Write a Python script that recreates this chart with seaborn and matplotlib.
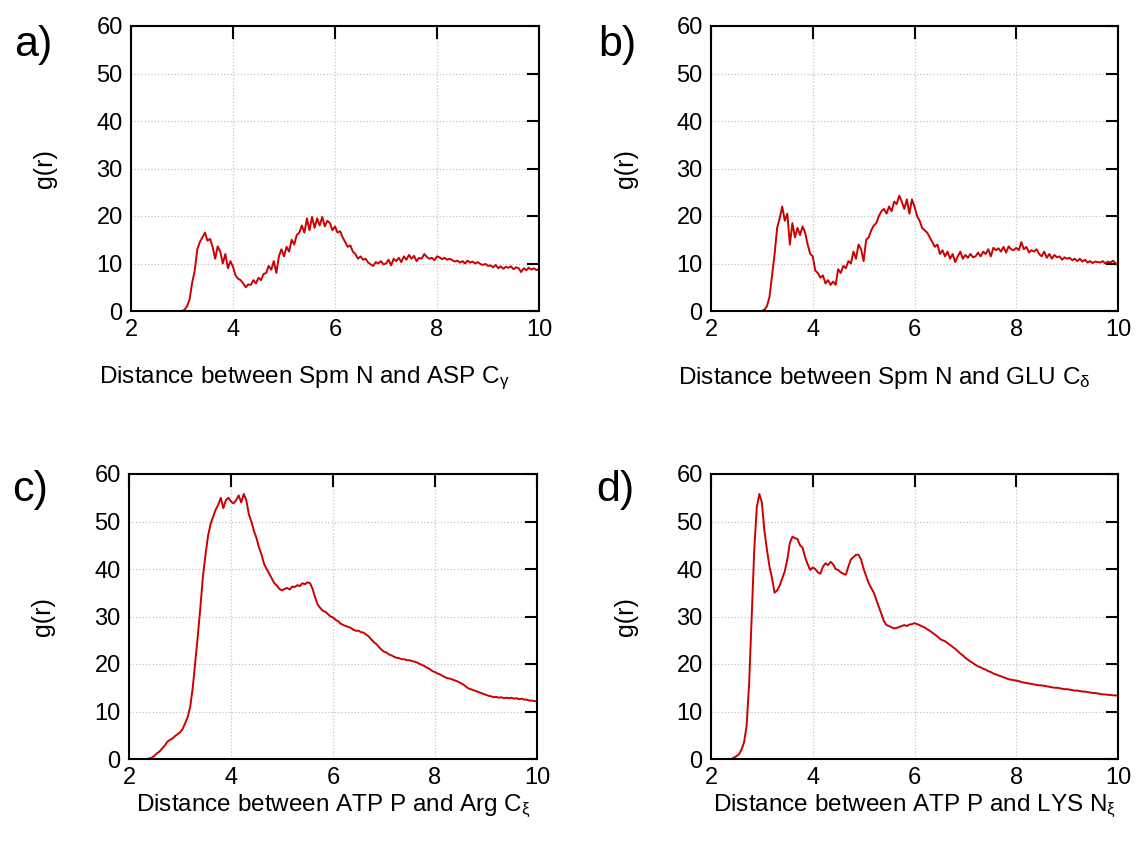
import numpy as np
import pandas as pd
import matplotlib
matplotlib.use("Agg")
import matplotlib.pyplot as plt
import seaborn as sns

g_asp = [0.0] * 21 + [
    0.3, 1.0, 2.5, 6.0, 8.5, 13.0, 14.5, 15.5, 16.5, 14.8,
    15.2, 13.5, 11.0, 13.6, 12.5, 10.0, 12.0, 9.0, 10.5, 9.3,
    7.5, 6.8, 6.5, 5.8, 5.0, 5.6, 5.5, 6.5, 5.8, 7.0,
    6.5, 7.8, 8.0, 9.5, 8.7, 10.5, 8.0, 11.5, 13.0, 11.5,
    13.5, 12.5, 15.0, 14.0, 16.0, 16.5, 18.0, 16.5, 19.5, 17.0,
    19.8, 17.5, 19.5, 18.0, 19.8, 17.8, 19.0, 18.5, 17.0, 17.8,
    16.5, 16.8, 15.5, 14.5, 13.5, 13.8, 12.5, 12.0, 11.0, 11.5,
    10.8, 11.0, 10.2, 9.8, 9.5, 10.3, 10.0, 10.5, 9.8, 10.0,
    10.8, 9.6, 11.0, 10.5, 11.2, 10.3, 11.5, 10.8, 11.8, 11.0,
    11.6, 10.5, 11.2, 11.0, 12.0, 11.4, 11.0, 11.2, 10.7, 11.5,
    11.3, 10.9, 11.2, 10.8, 11.0, 10.7, 10.4, 10.6, 10.2, 10.5,
    10.0, 10.6, 10.2, 10.4, 10.0, 10.3, 9.9, 9.7, 9.9, 9.5,
    9.6, 9.2, 9.7, 9.0, 9.4, 8.9, 9.3, 9.1, 9.4, 8.8,
    9.2, 9.0, 8.2, 9.0, 8.6, 9.1, 8.7, 9.0, 8.6, 8.8,
]
g_glu = [0.0] * 21 + [
    0.3, 1.0, 3.0, 7.5, 12.0, 17.5, 19.5, 22.0, 19.0, 20.5,
    14.0, 18.5, 15.5, 17.5, 16.0, 17.8, 16.5, 14.0, 12.0, 11.5,
    8.5, 8.0, 7.0, 7.5, 5.8, 6.5, 5.5, 6.2, 5.5, 8.8,
    8.0, 9.5, 9.0, 10.5, 10.0, 12.5, 11.0, 14.0, 13.0, 10.5,
    15.0, 15.5, 17.0, 18.0, 18.5, 20.0, 21.0, 21.5, 20.5, 22.0,
    21.0, 23.0, 22.5, 24.3, 23.0, 21.5, 23.5, 20.5, 23.5, 22.0,
    20.0, 19.0, 17.5, 17.0, 16.5, 15.5, 14.5, 13.5, 14.0, 12.0,
    12.8, 11.5, 12.5, 11.0, 12.0, 10.3, 11.5, 12.5, 11.0, 11.8,
    11.2, 12.0, 11.3, 11.5, 12.3, 11.5, 12.5, 12.0, 13.0, 11.5,
    13.3, 12.8, 13.2, 12.5, 13.5, 12.3, 13.6, 13.0, 12.8, 13.3,
    12.8, 14.5, 13.0, 13.5, 12.3, 12.8, 12.5, 13.0, 12.0, 11.5,
    12.5, 11.2, 12.0, 11.0, 11.8, 11.3, 11.5, 10.8, 11.3, 11.0,
    11.2, 10.7, 11.0, 10.5, 11.0, 10.4, 10.8, 10.2, 10.5, 10.1,
    10.4, 10.3, 10.2, 10.5, 10.0, 10.4, 10.2, 10.6, 10.1, 9.6,
]
g_arg = [0.0] * 8 + [
    0.1, 0.3, 0.7, 1.2, 1.6, 2.2, 2.8, 3.6, 4.0, 4.3,
    4.8, 5.2, 5.6, 6.3, 7.5, 8.8, 11.0, 15.0, 20.5, 26.0,
    32.0, 38.5, 43.0, 47.0, 49.5, 51.0, 52.5, 53.5, 55.0, 52.8,
    54.5, 55.0, 54.2, 53.8, 54.5, 55.5, 54.0, 55.8, 54.5, 51.5,
    50.0, 48.0, 46.5, 44.5, 43.0, 41.0, 40.0, 39.0, 38.0, 37.0,
    36.5, 35.8, 35.5, 35.8, 36.0, 35.7, 36.3, 36.2, 36.6, 36.4,
    37.0, 36.8, 37.2, 37.0, 35.8, 34.0, 32.5, 31.8, 31.2, 31.0,
    30.5, 30.0, 29.8, 29.3, 29.0, 28.5, 28.2, 28.0, 27.8, 27.6,
    27.2, 27.0, 27.0, 26.7, 26.6, 26.2, 25.8, 25.2, 24.6, 24.2,
    23.6, 23.0, 22.6, 22.4, 22.0, 21.8, 21.5, 21.3, 21.2, 21.0,
    21.0, 20.8, 20.8, 20.6, 20.5, 20.3, 20.0, 19.8, 19.5, 19.2,
    18.9, 18.5, 18.3, 18.0, 17.8, 17.5, 17.2, 17.0, 16.9, 16.7,
    16.5, 16.3, 16.0, 15.7, 15.3, 14.9, 14.7, 14.5, 14.3, 14.1,
    13.9, 13.7, 13.5, 13.3, 13.2, 13.0, 13.1, 12.9, 13.0, 12.8,
    12.9, 12.8, 12.9, 12.7, 12.8, 12.6, 12.7, 12.5, 12.5, 12.3,
    12.3, 12.2, 12.1,
]
g_lys = [0.0] * 9 + [
    0.3, 0.6, 1.0, 2.0, 3.5, 7.0, 16.0, 30.0, 44.0, 53.0,
    55.8, 54.0, 48.0, 44.0, 40.5, 38.0, 35.0, 35.5, 36.5, 38.0,
    39.5, 42.0, 45.5, 46.8, 46.5, 46.3, 45.0, 44.5, 42.5, 41.0,
    39.8, 40.3, 40.0, 39.3, 39.0, 40.5, 41.2, 40.8, 41.5, 41.0,
    40.0, 39.8, 39.3, 39.0, 38.8, 40.5, 42.0, 42.5, 43.0, 43.0,
    42.0, 40.0, 38.5, 37.0, 36.0, 35.0, 33.5, 32.0, 30.5, 29.0,
    28.2, 28.0, 27.7, 27.5, 27.6, 27.8, 28.0, 28.2, 28.0, 28.3,
    28.4, 28.6, 28.4, 28.2, 27.9, 27.7, 27.3, 27.0, 26.6, 26.2,
    25.8, 25.3, 25.0, 24.8, 24.4, 24.0, 23.6, 23.2, 22.7, 22.2,
    21.8, 21.3, 20.9, 20.5, 20.2, 19.8, 19.5, 19.3, 19.0, 18.8,
    18.5, 18.3, 18.0, 17.8, 17.6, 17.4, 17.2, 17.0, 16.8, 16.7,
    16.6, 16.5, 16.4, 16.2, 16.1, 16.0, 15.9, 15.8, 15.7, 15.6,
    15.5, 15.5, 15.4, 15.3, 15.2, 15.1, 15.0, 15.0, 14.9, 14.8,
    14.7, 14.7, 14.6, 14.5, 14.4, 14.4, 14.3, 14.2, 14.2, 14.1,
    14.0, 13.9, 13.9, 13.8, 13.7, 13.6, 13.6, 13.5, 13.5, 13.4,
    13.4, 13.3,
]

letters = ["a)", "b)", "c)", "d)"]
xlabels = [
    r"Distance between Spm N and ASP C$_\gamma$",
    r"Distance between Spm N and GLU C$_\delta$",
    r"Distance between ATP P and Arg C$_\xi$",
    r"Distance between ATP P and LYS N$_\xi$",
]
xticks = [2, 4, 6, 8, 10]
yticks = [0, 10, 20, 30, 40, 50, 60]

sns.set_theme(style="white")
plt.rcParams["font.family"] = ["Liberation Sans", "DejaVu Sans"]
plt.rcParams["mathtext.fontset"] = "custom"
plt.rcParams["mathtext.rm"] = "Liberation Sans"
plt.rcParams["mathtext.it"] = "Liberation Sans:italic"
plt.rcParams["mathtext.default"] = "regular"

RED = "#cc0000"
W, H = 1140, 843
fig = plt.figure(figsize=(W / 100, H / 100), dpi=100)

# axes boxes in pixels: left, top, right, bottom
boxes = [(131, 26, 539, 311), (711, 26, 1118, 311),
         (129, 474, 537, 759), (711, 474, 1118, 759)]
letter_pos = [(33, 45), (617, 45), (30, 490), (615, 490)]
xlabel_x = [0.426, 0.425, 0.5, 0.5]

for i, g in enumerate([g_asp, g_glu, g_arg, g_lys]):
    l, t, r, b = boxes[i]
    ax = fig.add_axes([l / W, 1 - b / H, (r - l) / W, (b - t) / H])
    df = pd.DataFrame({"r": np.round(2 + 0.05 * np.arange(len(g)), 2), "g": g})
    sns.lineplot(data=df, x="r", y="g", ax=ax, color=RED, lw=1.4)

    ax.set_xlim(2, 10)
    ax.set_ylim(0, 60)
    ax.set_xticks(xticks)
    ax.set_yticks(yticks)
    ax.grid(True, ls=":", color="#c4c4c4", lw=0.9)
    ax.set_axisbelow(True)
    for s in ax.spines.values():
        s.set_visible(True)
        s.set_color("black")
        s.set_linewidth(1.5)
    ax.tick_params(direction="in", top=True, right=True, length=9, width=1.5,
                   labelsize=17, colors="black", pad=6)

    ax.set_xlabel(xlabels[i], fontsize=17.5, color="black")
    ax.set_ylabel("g(r)", fontsize=18, color="black")
    ax.xaxis.set_label_coords(xlabel_x[i], -0.235 if i < 2 else -0.168)
    ax.xaxis.label.set_va("center")
    ax.yaxis.set_label_coords(-0.21, 0.5)
    ax.yaxis.label.set_va("center")

    fx, fy = letter_pos[i]
    fig.text(fx / W, 1 - fy / H, letters[i], fontsize=31,
             ha="center", va="center", color="black")

fig.savefig("out.png", dpi=100)
